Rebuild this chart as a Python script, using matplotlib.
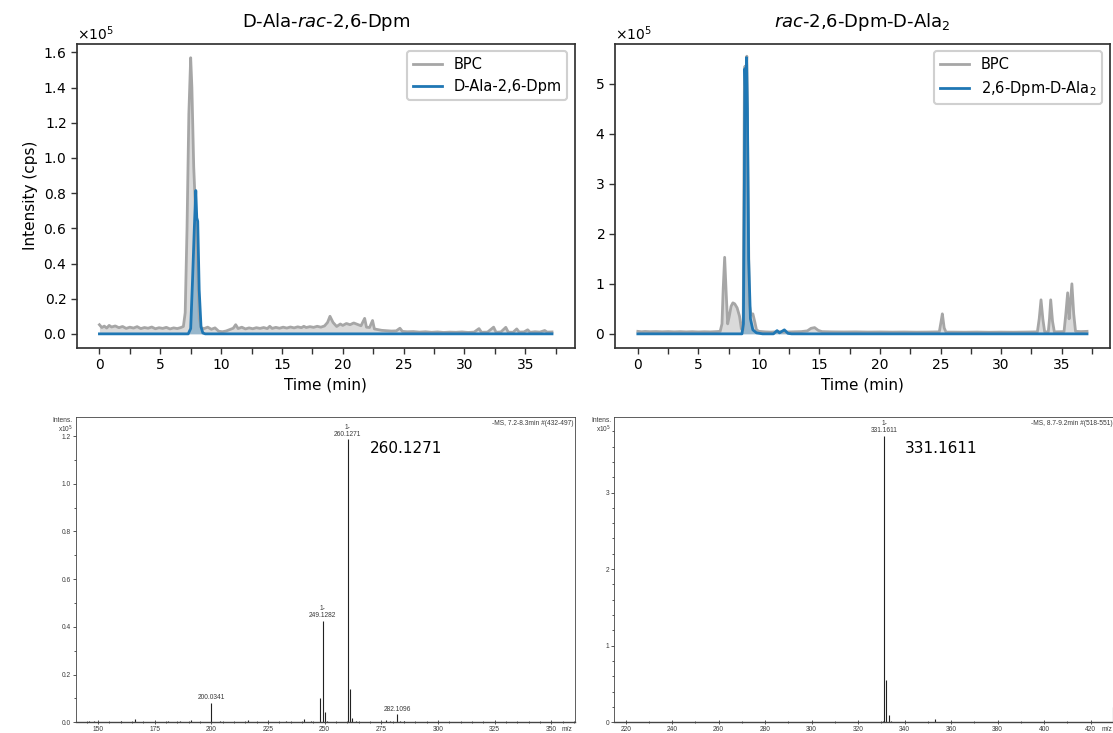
import matplotlib
matplotlib.use("Agg")
import matplotlib.pyplot as plt
from matplotlib.ticker import MultipleLocator, ScalarFormatter, FormatStrFormatter

# ---------------- data ----------------
# Left chromatogram: D-Ala-rac-2,6-Dpm
t_bpc_left = [0.0, 0.2, 0.4, 0.6, 0.8, 1.0, 1.3, 1.6, 1.9, 2.2, 2.5, 2.8, 3.1, 3.4, 3.7, 4.0, 4.3, 4.6,
              4.9, 5.2, 5.5, 5.8, 6.1, 6.4, 6.7, 6.9, 7.05, 7.2, 7.35, 7.5, 7.6, 7.75, 7.9, 8.05, 8.2, 8.35,
              8.6, 8.9, 9.2, 9.5, 9.8, 10.1, 10.4, 10.7, 11.0, 11.2, 11.4, 11.7, 12.0, 12.3, 12.6, 12.9,
              13.2, 13.5, 13.8, 14.0, 14.2, 14.5, 14.8, 15.1, 15.4, 15.7, 16.0, 16.3, 16.6, 16.8, 17.0,
              17.3, 17.6, 17.9, 18.2, 18.5, 18.75, 18.95, 19.2, 19.5, 19.8, 20.0, 20.3, 20.6, 20.9, 21.2,
              21.5, 21.8, 21.95, 22.2, 22.45, 22.6, 22.9, 23.2, 23.6, 24.0, 24.4, 24.7, 24.9, 25.3, 25.8,
              26.3, 26.8, 27.3, 27.8, 28.3, 28.8, 29.3, 29.8, 30.3, 30.8, 31.2, 31.4, 31.9, 32.4, 32.6,
              33.0, 33.4, 33.6, 34.0, 34.3, 34.5, 34.9, 35.2, 35.4, 35.8, 36.2, 36.6, 36.8, 37.2]
i_bpc_left = [5200, 3600, 4400, 3300, 4800, 3900, 4500, 3500, 4200, 3100, 3800, 3300, 4100, 3000, 3600,
              3200, 3900, 2900, 3500, 3100, 3700, 2800, 3400, 3000, 3600, 4200, 12000, 60000, 125000,
              157000, 140000, 95000, 70000, 40000, 9000, 3500, 3000, 3800, 2600, 3400, 1500, 1200, 1600,
              2400, 3200, 5200, 3000, 3800, 2800, 3400, 2900, 3500, 3100, 3600, 3000, 4300, 3100, 3700,
              3200, 3800, 3300, 3900, 3400, 4000, 3500, 4300, 3600, 4100, 3700, 4300, 3800, 4500, 6500,
              10000, 6500, 4200, 5600, 4800, 5900, 5200, 6200, 5400, 4600, 8800, 3800, 3600, 7600, 2800,
              2400, 2000, 1800, 1600, 1700, 3200, 1400, 1200, 1300, 1000, 1200, 900, 1100, 800, 1000,
              900, 1100, 800, 1000, 3000, 900, 1000, 3800, 900, 1100, 3700, 1000, 900, 2800, 1000, 1100,
              2300, 900, 1200, 1000, 1900, 1000, 1100]
t_eic_left = [0.0, 7.3, 7.5, 7.65, 7.8, 7.92, 8.0, 8.08, 8.2, 8.35, 8.5, 8.7, 37.2]
i_eic_left = [0, 0, 3000, 30000, 60000, 81500, 66000, 64000, 25000, 4000, 500, 0, 0]

# Right chromatogram: rac-2,6-Dpm-D-Ala2
t_bpc_right = [0.0, 0.3, 0.6, 1.0, 1.5, 2.0, 2.5, 3.0, 3.5, 4.0, 4.5, 5.0, 5.5, 6.0, 6.5, 6.8, 6.95, 7.05,
               7.17, 7.3, 7.42, 7.55, 7.7, 7.85, 8.0, 8.2, 8.4, 8.55, 8.7, 8.8, 8.85, 8.92, 9.0, 9.1, 9.2,
               9.35, 9.5, 9.65, 9.8, 10.0, 10.5, 11.0, 11.5, 12.0, 12.5, 13.0, 13.5, 14.0, 14.3, 14.6,
               14.9, 15.2, 16.0, 17.0, 18.0, 19.0, 20.0, 21.0, 22.0, 23.0, 24.0, 24.9, 25.05, 25.15, 25.3,
               25.45, 26.0, 27.0, 28.0, 29.0, 30.0, 31.0, 32.0, 33.0, 33.15, 33.3, 33.45, 33.6, 33.9,
               34.0, 34.1, 34.25, 34.4, 35.2, 35.35, 35.5, 35.62, 35.72, 35.85, 36.0, 36.15, 36.6, 37.1]
i_bpc_right = [5000, 4200, 4800, 4300, 4600, 4100, 4500, 4000, 4400, 3900, 4300, 3800, 4200, 3900, 4500,
               5000, 20000, 90000, 153000, 80000, 20000, 35000, 55000, 62000, 60000, 52000, 35000, 10000,
               8000, 500000, 535000, 505000, 555000, 300000, 60000, 38000, 40000, 25000, 8000, 5000,
               4000, 3500, 4200, 4000, 3800, 4200, 4500, 6000, 11000, 12500, 7000, 4500, 4000, 3800,
               4000, 3600, 3800, 3500, 3700, 3400, 3600, 4000, 25000, 40000, 12000, 3500, 3500, 3300,
               3600, 3200, 3500, 3300, 3600, 4000, 30000, 68000, 30000, 4000, 4000, 30000, 68000, 25000,
               4000, 4500, 40000, 82000, 30000, 60000, 100000, 40000, 5000, 4500, 5000]
t_eic_right = [0.0, 8.6, 8.72, 8.8, 8.84, 8.9, 8.98, 9.05, 9.15, 9.3, 9.5, 9.8, 10.3, 11.2, 11.5, 11.7,
               12.1, 12.4, 12.7, 37.1]
i_eic_right = [0, 0, 20000, 300000, 530000, 480000, 552000, 450000, 150000, 30000, 8000, 2000, 0, 0,
               6500, 2000, 8000, 1000, 0, 0]

titles = ["D-Ala-$\\mathit{rac}$-2,6-Dpm", "$\\mathit{rac}$-2,6-Dpm-D-Ala$_2$"]
eic_labels = ["D-Ala-2,6-Dpm", "2,6-Dpm-D-Ala$_2$"]

# Mass spectra (intensity in units of 1e5)
mz_left = [146.0, 148.0, 152.0, 160.0, 166.1, 170.0, 181.0, 186.0, 189.0, 191.0, 200.0341, 204.0,
           210.0, 216.0, 226.0, 233.0, 241.0, 244.0, 248.1, 249.1282, 250.1, 251.0, 260.1271, 261.13,
           262.1, 264.0, 270.0, 277.0, 279.0, 282.1096, 283.1, 285.0, 300.0, 315.0]
int_left = [0.004, 0.006, 0.003, 0.004, 0.015, 0.003, 0.004, 0.005, 0.003, 0.008, 0.082, 0.004,
            0.003, 0.008, 0.003, 0.004, 0.012, 0.004, 0.103, 0.426, 0.042, 0.006, 1.187, 0.14,
            0.02, 0.004, 0.003, 0.009, 0.004, 0.035, 0.006, 0.004, 0.003, 0.003]
mz_right = [225.0, 250.0, 290.0, 300.0, 330.6, 331.1611, 332.16, 333.17, 334.0, 353.1, 365.0, 380.0, 429.8]
int_right = [0.003, 0.002, 0.003, 0.002, 0.02, 3.74, 0.556, 0.096, 0.02, 0.04, 0.003, 0.002, 0.205]

spec_labels_left = [(260.1271, 1.187, "1-\n260.1271"), (249.1282, 0.426, "1-\n249.1282"),
                    (200.0341, 0.082, "200.0341"), (282.1096, 0.035, "282.1096")]
spec_labels_right = [(331.1611, 3.74, "1-\n331.1611")]
spec_big = ["260.1271", "331.1611"]
spec_info = ["-MS, 7.2-8.3min #(432-497)", "-MS, 8.7-9.2min #(518-551)"]

# ---------------- figure ----------------
plt.rcParams['font.family'] = ['DejaVu Sans']
fig = plt.figure(figsize=(11.13, 7.33), dpi=100)

BPC_COLOR = '#a6a6a6'
BLUE = '#1f77b4'
SPINE = '#333333'

ax_tl = fig.add_axes([0.0690, 0.5257, 0.4473, 0.4147])
ax_tr = fig.add_axes([0.5529, 0.5257, 0.4440, 0.4147])

chrom = [(ax_tl, t_bpc_left, i_bpc_left, t_eic_left, i_eic_left, 20000),
         (ax_tr, t_bpc_right, i_bpc_right, t_eic_right, i_eic_right, 100000)]
for k, (ax, tb, ib, te, ie, ystep) in enumerate(chrom):
    ax.fill_between(tb, ib, 0, color='#bdbdbd', alpha=0.55, lw=0)
    ax.plot(tb, ib, color=BPC_COLOR, lw=2, label='BPC')
    ax.fill_between(te, ie, 0, color=BLUE, alpha=0.35, lw=0)
    ax.plot(te, ie, color=BLUE, lw=2, label=eic_labels[k])
    ax.set_title(titles[k], fontsize=13, pad=12)
    ax.set_xlabel('Time (min)', fontsize=11)
    ax.xaxis.set_major_locator(MultipleLocator(5))
    ax.xaxis.set_minor_locator(MultipleLocator(2.5))
    ax.yaxis.set_major_locator(MultipleLocator(ystep))
    fmt = ScalarFormatter(useMathText=True)
    fmt.set_powerlimits((0, 0))
    ax.yaxis.set_major_formatter(fmt)
    ax.tick_params(which='both', length=4, width=1, color=SPINE, labelsize=10, direction='out')
    for s in ax.spines.values():
        s.set_color(SPINE)
        s.set_linewidth(1.25)
    leg = ax.legend(loc='upper right', fontsize=10.5, framealpha=1)
    leg.get_frame().set_linewidth(1.5)
    leg.get_frame().set_edgecolor('#d0d0d0')

ax_tl.set_xlim(-1.86, 39.06)
ax_tl.set_ylim(-7850, 165000)
ax_tr.set_xlim(-1.855, 38.96)
ax_tr.set_ylim(-27600, 580000)
ax_tl.set_ylabel('Intensity (cps)', fontsize=11)

# ---------------- spectra ----------------
SFONT = ['Liberation Sans', 'DejaVu Sans']
TXT = '#3a3a3a'
ax_bl = fig.add_axes([0.0680, 0.0146, 0.4483, 0.4169])
ax_br = fig.add_axes([0.5517, 0.0146, 0.4490, 0.4169])

specs = [(ax_bl, mz_left, int_left, spec_labels_left, (140.1, 360.3), (0, 1.281), 25, 5, 0.2, 0.1,
          '%.1f', (269.8, 1.146), 357.0),
         (ax_br, mz_right, int_right, spec_labels_right, (215.0, 430.0), (0, 3.99), 20, 10, 1, 0.2,
          '%d', (339.9, 3.58), 427.2)]
for k, (ax, mz, it, labs, xl, yl, xmaj, xmin, ymaj, ymin, yf, bigpos, mzpos) in enumerate(specs):
    ax.vlines(mz, 0, it, color='#222222', lw=0.8)
    ax.set_xlim(*xl)
    ax.set_ylim(*yl)
    for x, y, s in labs:
        ax.annotate(s, (x, y), xytext=(0, 1), textcoords='offset points', ha='center', va='bottom',
                    fontsize=4.8, family=SFONT, color=TXT, linespacing=1.0)
    ax.text(bigpos[0], bigpos[1], spec_big[k], fontsize=11, va='center', ha='left')
    ax.text(0.997, 0.99, spec_info[k], transform=ax.transAxes, ha='right', va='top',
            fontsize=4.8, family=SFONT, color=TXT)
    ax.text(-0.006, 1.0, "Intens.\nx10$^5$", transform=ax.transAxes, ha='right', va='top',
            fontsize=4.8, family=SFONT, color=TXT, linespacing=1.0)
    ax.text(mzpos, -0.012, "m/z", transform=ax.get_xaxis_transform(), ha='center', va='top',
            fontsize=4.8, family=SFONT, color=TXT)
    ax.xaxis.set_major_locator(MultipleLocator(xmaj))
    ax.xaxis.set_minor_locator(MultipleLocator(xmin))
    ax.yaxis.set_major_locator(MultipleLocator(ymaj))
    ax.yaxis.set_minor_locator(MultipleLocator(ymin))
    ax.yaxis.set_major_formatter(FormatStrFormatter(yf))
    ax.tick_params(axis='both', which='both', labelsize=4.8, colors=TXT, width=0.6, pad=1)
    ax.tick_params(axis='x', which='major', direction='inout', length=3)
    ax.tick_params(axis='x', which='minor', direction='inout', length=2)
    ax.tick_params(axis='y', which='major', direction='out', length=2.5)
    ax.tick_params(axis='y', which='minor', direction='out', length=1.5)
    for lbl in ax.get_xticklabels() + ax.get_yticklabels():
        lbl.set_family(SFONT)
    for s in ax.spines.values():
        s.set_color('#444444')
        s.set_linewidth(0.6)
    ax.spines['bottom'].set_linewidth(1.0)

ax_br.spines['right'].set_visible(False)

fig.savefig('out.png', dpi=100)
